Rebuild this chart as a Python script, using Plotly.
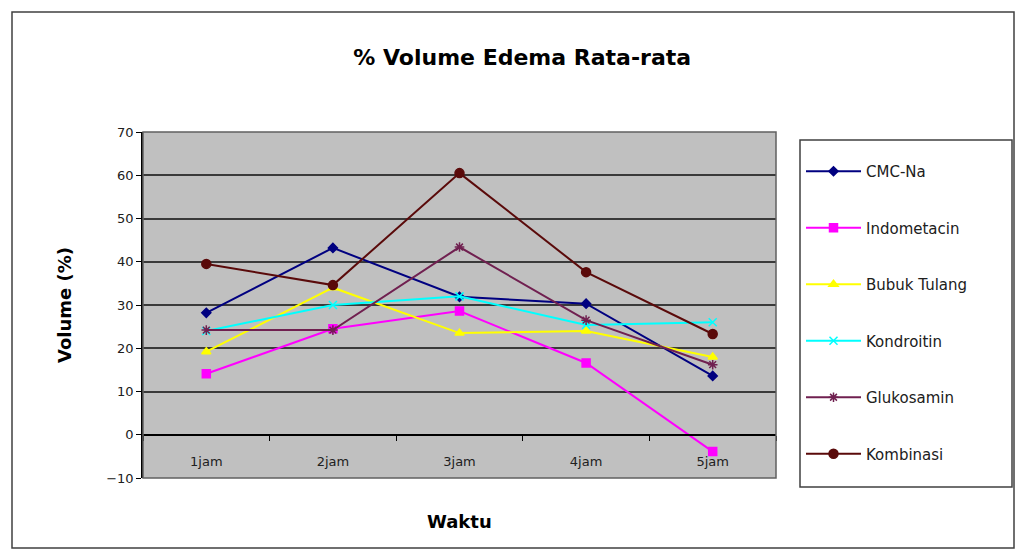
import plotly.graph_objects as go

# Time points and mean oedema volume (%) per treatment group
waktu = ["1jam", "2jam", "3jam", "4jam", "5jam"]
cmc_na = [28.2, 43.2, 31.9, 30.3, 13.6]
indometacin = [14.1, 24.5, 28.6, 16.6, -3.9]
bubuk_tulang = [19.2, 34.0, 23.5, 24.0, 18.0]
kondroitin = [24.0, 30.0, 32.0, 25.4, 26.0]
glukosamin = [24.2, 24.2, 43.4, 26.5, 16.2]
kombinasi = [39.5, 34.6, 60.5, 37.6, 23.3]

y_ticks = [-10, 0, 10, 20, 30, 40, 50, 60, 70]

series = [
    ("CMC-Na", cmc_na, "#000080", "diamond", 7),
    ("Indometacin", indometacin, "#FF00FF", "square", 8),
    ("Bubuk Tulang", bubuk_tulang, "#FFFF00", "triangle-up", 8),
    ("Kondroitin", kondroitin, "#00FFFF", "x-thin-open", 8),
    ("Glukosamin", glukosamin, "#702050", "asterisk-open", 8),
    ("Kombinasi", kombinasi, "#5A0A0A", "circle", 9),
]

fig = go.Figure()
for i, (name, vals, color, symbol, size) in enumerate(series):
    fig.add_trace(go.Scatter(
        x=waktu, y=vals, name=name, mode="lines+markers",
        legendgroup=f"g{i}",
        line=dict(color=color, width=2),
        marker=dict(symbol=symbol, size=size, color=color,
                    line=dict(color=color, width=1.5)),
    ))

y_min, y_max = -10, 70
# paper position of the value 0 so the category axis crosses there
zero_pos = (0 - y_min) / (y_max - y_min)

L, R, T, B = 143, 248, 132, 81
W, H = 1024, 559
pw, ph = W - L - R, H - T - B

def px_x(p):
    return (p - L) / pw

def px_y(p):
    return (H - B - p) / ph

FONT = "DejaVu Sans, Liberation Sans, Arial, sans-serif"

fig.update_layout(
    width=W, height=H,
    margin=dict(l=L, r=R, t=T, b=B),
    paper_bgcolor="white",
    plot_bgcolor="#C0C0C0",
    font=dict(family=FONT, color="#000000", size=12),
    title=dict(text="<b>% Volume Edema Rata-rata</b>", x=0.51, xanchor="center",
               y=1 - 57 / H, yanchor="middle", font=dict(size=22)),
    xaxis=dict(
        type="category", range=[-0.5, 4.5], anchor="free", position=zero_pos,
        showline=True, linecolor="#000000", linewidth=1.5,
        ticks="outside", tickson="boundaries", ticklen=5, tickcolor="#000000",
        ticklabelstandoff=15,
        showgrid=False, zeroline=False,
        tickfont=dict(family=FONT, size=13, color="#202020"),
    ),
    yaxis=dict(
        range=[y_min, y_max], tickvals=y_ticks, ticks="outside", ticklen=5,
        tickcolor="#000000",
        showline=True, linecolor="#000000", linewidth=1.5,
        showgrid=True, gridcolor="#3A3A3A", gridwidth=1.5,
        zeroline=False, tickfont=dict(family=FONT, size=13, color="#202020"),
        title=dict(text="<b>Volume (%)</b>", font=dict(size=18), standoff=30),
    ),
    legend=dict(
        x=px_x(801), xanchor="left", y=px_y(155), yanchor="top",
        bgcolor="rgba(0,0,0,0)", borderwidth=0,
        font=dict(size=15, color="#202020"), traceorder="grouped",
        tracegroupgap=34, itemwidth=55,
    ),
    showlegend=True,
)

# x-axis title below the plot area
fig.add_annotation(text="<b>Waktu</b>", xref="paper", yref="paper",
                   x=0.5, y=px_y(521), xanchor="center", yanchor="middle",
                   showarrow=False, font=dict(size=18))

# legend frame
fig.add_shape(type="rect", xref="paper", yref="paper",
              x0=px_x(800), x1=px_x(1012), y0=px_y(487), y1=px_y(140),
              line=dict(color="#404040", width=1.5), fillcolor="white",
              layer="below")
# plot area frame and chart border
fig.add_shape(type="rect", xref="paper", yref="paper", x0=0, x1=1, y0=0, y1=1,
              line=dict(color="#606060", width=1.5), layer="above")
fig.add_shape(type="rect", xref="paper", yref="paper",
              x0=px_x(12), x1=px_x(1014), y0=px_y(548), y1=px_y(12),
              line=dict(color="#404040", width=1.5))

fig.write_html("out.html")
